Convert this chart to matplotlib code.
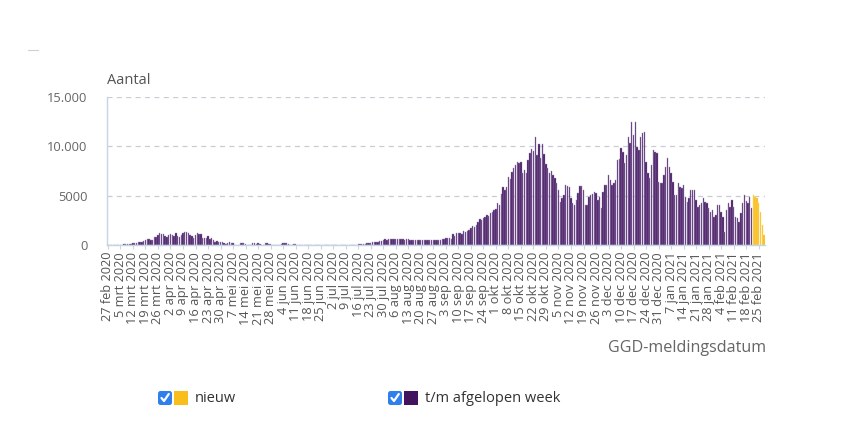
import matplotlib
matplotlib.use("Agg")
import matplotlib.pyplot as plt
from matplotlib.patches import FancyBboxPatch, Rectangle
from matplotlib.lines import Line2D
import numpy as np

plt.rcParams['font.family'] = ['Open Sans', 'DejaVu Sans']

# Daily positive tests by GGD report date (27 feb 2020 - 28 feb 2021)
feb_2020 = [1, 1, 4]
mrt_2020 = [2, 8, 5, 14, 44, 46, 60, 77, 56, 61, 121, 190, 155, 176, 278, 292, 346, 409, 534, 637,
            573, 545, 545, 811, 852, 1019, 1172, 1159, 1104, 884, 845]
apr_2020 = [1019, 1083, 1026, 904, 1224, 952, 777, 969, 1213, 1335, 1316, 1174, 964, 868, 734, 1061,
            1235, 1140, 1066, 750, 729, 708, 887, 655, 724, 480, 300, 420, 350, 260]
mei_2020 = [300, 180, 60, 250, 300, 200, 230, 40, 20, 30, 200, 250, 180, 150, 30, 20, 10, 180, 220, 150,
            190, 120, 20, 10, 170, 200, 150, 130, 20, 10, 20]
jun_2020 = [30, 20, 150, 180, 200, 160, 120, 20, 10, 150, 120, 40, 30, 20, 30, 40, 20, 10, 30, 40,
            30, 20, 20, 30, 20, 10, 20, 30, 20, 10]
jul_2020 = [20, 30, 20, 10, 20, 30, 40, 30, 20, 30, 40, 50, 40, 30, 50, 60, 70, 60, 100, 130,
            180, 220, 200, 260, 300, 280, 350, 420, 400, 480, 560]
aug_2020 = [520, 580, 600, 560, 620, 590, 560, 600, 610, 570, 540, 600, 560, 500, 530, 480, 510, 540, 500, 470,
            460, 500, 520, 480, 470, 510, 530, 500, 480, 520, 550]
sep_2020 = [560, 640, 700, 680, 720, 650, 1100, 950, 1250, 1200, 1250, 1150, 1400, 1350, 1450, 1500, 1700, 1900,
            1800, 2000, 2350, 2600, 2500, 2750, 2800, 3040, 2950, 3200, 3300, 3550]
okt_2020 = [3600, 4250, 4100, 5200, 5900, 5600, 5900, 6900, 6700, 7400, 7800, 8100, 8400, 8300, 8400, 7300,
            7600, 7300, 8600, 9300, 9700, 9500, 10970, 9100, 10200, 8800, 10200, 9200, 8200, 7800, 7300]
nov_2020 = [7500, 7100, 6800, 6300, 5600, 4400, 4800, 5100, 6100, 6000, 5900, 4750, 4300, 4050, 4560, 5300,
            6000, 6000, 5570, 4050, 4100, 4900, 5070, 5200, 5400, 5300, 4560, 4900, 3750, 5400]
dec_2020 = [6080, 6080, 7100, 6590, 6080, 6300, 6590, 8600, 8700, 9800, 9450, 8270, 9100, 10970, 10300,
            12430, 11140, 12430, 9960, 9620, 10970, 11310, 11480, 8440, 7300, 6800, 8100, 9620, 9450, 9280, 6400]
jan_2021 = [6250, 6250, 7090, 7940, 8780, 7940, 7260, 6400, 5070, 5070, 6250, 5910, 5740, 6080, 4900, 4390,
            4730, 5570, 5570, 5570, 4560, 3880, 4050, 4220, 4730, 4390, 4220, 3750, 3380, 3550, 2870]
feb_2021 = [3040, 4050, 4100, 3380, 2870, 1350, 3550, 4220, 3880, 4560, 3880, 2870, 2700, 2360, 3210, 4220,
            5070, 4470, 4220, 4900, 3700, 5070, 4900, 4730, 4220, 3380, 2030, 1010]

n_new = 7  # last week shown as "nieuw"

tick_labels = ["27 feb 2020", "5 mrt 2020", "12 mrt 2020", "19 mrt 2020", "26 mrt 2020", "2 apr 2020",
               "9 apr 2020", "16 apr 2020", "23 apr 2020", "30 apr 2020", "7 mei 2020", "14 mei 2020",
               "21 mei 2020", "28 mei 2020", "4 jun 2020", "11 jun 2020", "18 jun 2020", "25 jun 2020",
               "2 jul 2020", "9 jul 2020", "16 jul 2020", "23 jul 2020", "30 jul 2020", "6 aug 2020",
               "13 aug 2020", "20 aug 2020", "27 aug 2020", "3 sep 2020", "10 sep 2020", "17 sep 2020",
               "24 sep 2020", "1 okt 2020", "8 okt 2020", "15 okt 2020", "22 okt 2020", "29 okt 2020",
               "5 nov 2020", "12 nov 2020", "19 nov 2020", "26 nov 2020", "3 dec 2020", "10 dec 2020",
               "17 dec 2020", "24 dec 2020", "31 dec 2020", "7 jan 2021", "14 jan 2021", "21 jan 2021",
               "28 jan 2021", "4 feb 2021", "11 feb 2021", "18 feb 2021", "25 feb 2021"]

y_ticks = [0, 5000, 10000, 15000]
y_tick_labels = ["0", "5000", "10.000", "15.000"]

values = np.array(feb_2020 + mrt_2020 + apr_2020 + mei_2020 + jun_2020 + jul_2020 + aug_2020 +
                  sep_2020 + okt_2020 + nov_2020 + dec_2020 + jan_2021 + feb_2021)
idx = np.arange(len(values))

PURPLE = '#42145f'
YELLOW = '#f9bd1c'

fig = plt.figure(figsize=(8.5, 4.25), dpi=100)
ax = fig.add_axes([107/850, 1-245/425, (765-107)/850, (245-97)/425])

old = idx < len(values) - n_new
ax.bar(idx[old], values[old], width=0.78, color=PURPLE, edgecolor='#a593ba', linewidth=0.3)
ax.bar(idx[~old], values[~old], width=0.78, color=YELLOW, edgecolor='#fcd76a', linewidth=0.3)

ax.set_xlim(-0.5, len(values) - 0.5)
ax.set_ylim(0, 15000)
ax.set_yticks(y_ticks)
ax.set_yticklabels(y_tick_labels)
ax.tick_params(axis='y', length=0, pad=14, labelsize=9.3, labelcolor='#666666')
ax.set_xticks(np.arange(0, len(values), 7)[:len(tick_labels)])
ax.set_xticklabels(tick_labels, rotation=90, fontsize=9.2, color='#555555')
ax.tick_params(axis='x', length=3, width=0.8, color='#c9d6e3', pad=2)

ax.yaxis.grid(True, linestyle=(0, (4, 3.5)), color='#c8cdd5', linewidth=0.9)
ax.set_axisbelow(True)
for s in ['top', 'right']:
    ax.spines[s].set_visible(False)
ax.spines['left'].set_color('#c5d5e4')
ax.spines['bottom'].set_color('#c5d5e4')
ax.spines['left'].set_linewidth(1.0)
ax.spines['bottom'].set_linewidth(1.0)

fig.text(107/850, 1-80/425, "Aantal", fontsize=10.5, color='#555555', va='center', ha='left')
fig.text(766/850, 1-348/425, "GGD-meldingsdatum", fontsize=11.6, color='#666666', va='center', ha='right')

# small mark in top-left corner
fig.add_artist(Line2D([28/100, 38/100], [(425-50)/100, (425-50)/100], transform=fig.dpi_scale_trans,
                      color='#d0d0d0', lw=0.8))

# legend with checkboxes
def legend_item(x0, color, label):
    yc = 398
    tr = fig.dpi_scale_trans
    box = FancyBboxPatch(((x0)/100, (425-yc-7)/100), 14/100, 14/100,
                         boxstyle='round,pad=0,rounding_size=0.025', transform=tr,
                         facecolor='#2f80ed', edgecolor='none')
    fig.add_artist(box)
    fig.add_artist(Line2D([(x0+3.5)/100, (x0+6)/100, (x0+10.8)/100],
                          [(425-yc)/100, (425-yc-3)/100, (425-yc+4)/100],
                          transform=tr, color='white', lw=1.6, solid_capstyle='round'))
    sq = Rectangle(((x0+16)/100, (425-yc-7)/100), 14/100, 14/100, transform=tr,
                   facecolor=color, edgecolor='none')
    fig.add_artist(sq)
    fig.text((x0+37)/850, 1-yc/425, label, fontsize=10.5, color='#333333', va='center', ha='left')

legend_item(158, YELLOW, "nieuw")
legend_item(388, PURPLE, "t/m afgelopen week")

fig.savefig('out.png', dpi=100, facecolor='white')
